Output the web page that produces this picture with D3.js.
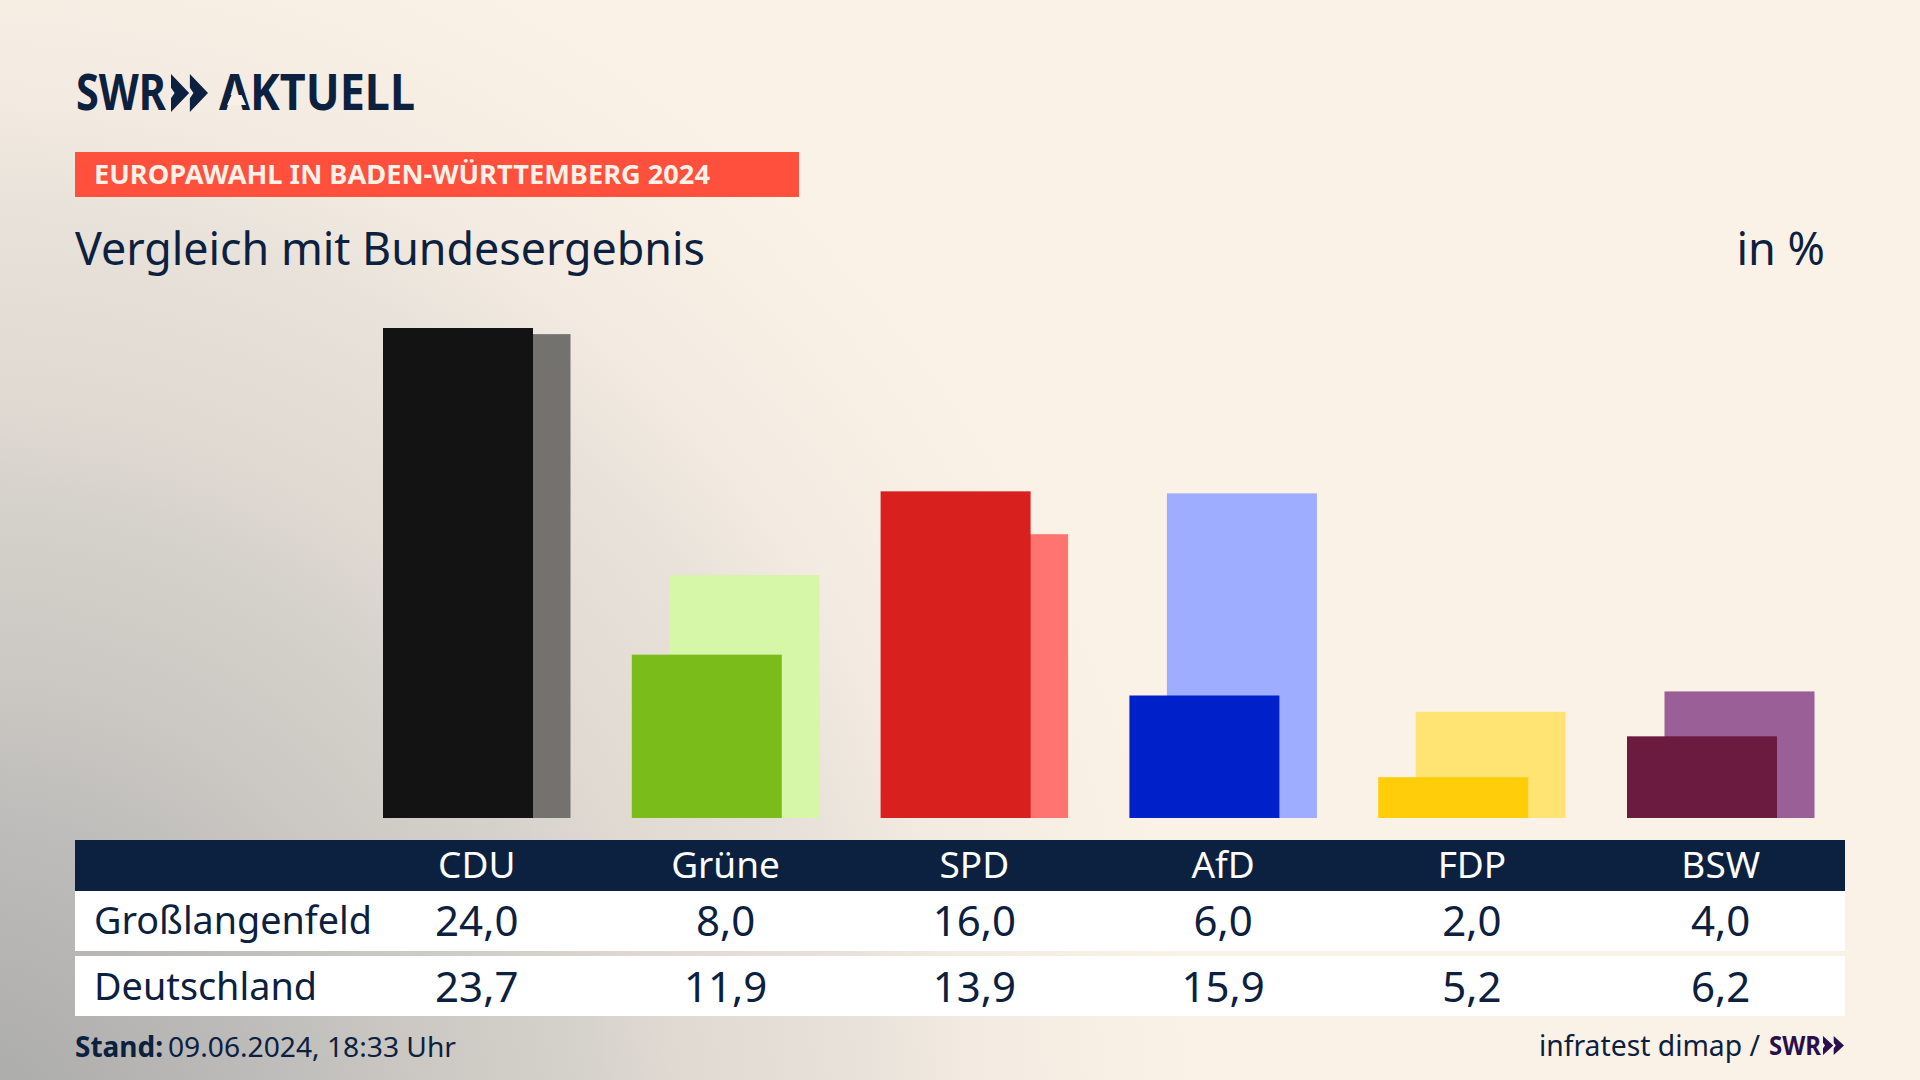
<!DOCTYPE html>
<html>
<head>
<meta charset="utf-8">
<script src="https://cdn.jsdelivr.net/npm/d3@7"></script>
<style>
html, body { margin: 0; padding: 0; background: #faf2e7; overflow: hidden; }
text { font-family: "Noto Sans", sans-serif; }
</style>
</head>
<body>
<div class="chart"></div>
<script>
const parties = ["CDU", "Grüne", "SPD", "AfD", "FDP", "BSW"]
const local = [24.0, 8.0, 16.0, 6.0, 2.0, 4.0]
const national = [23.7, 11.9, 13.9, 15.9, 5.2, 6.2]
const localLabels = ["24,0", "8,0", "16,0", "6,0", "2,0", "4,0"]
const nationalLabels = ["23,7", "11,9", "13,9", "15,9", "5,2", "6,2"]
const darkColors = ["#131313", "#7abd1b", "#d8201f", "#0020c9", "#ffcd0a", "#6b1a40"]
const lightColors = ["#73726f", "#d6f6a8", "#ff7470", "#9eadff", "#ffe373", "#9a5f96"]

const navy = "#0c2040"
const width = 1920
const height = 1080
const barWidth = 150
const barShift = 37.5

const svg = d3.select(".chart").append("svg")
  .attr("width", width)
  .attr("height", height)
  .style("display", "block")

const x = d3.scalePoint().domain(parties).range([476.75, 1720.75])
const y = d3.scaleLinear().domain([0, 24]).range([818, 328])

// background: cream with grey coming in from bottom left
const defs = svg.append("defs")
const grad = defs.append("radialGradient")
  .attr("id", "bgGrad")
  .attr("gradientUnits", "userSpaceOnUse")
  .attr("cx", 0).attr("cy", 0).attr("r", 1)
  .attr("gradientTransform", "translate(-40,1150) scale(1300,1350)")
const stops = [[0, "#a8a8a8"], [0.23, "#bcbbb9"], [0.35, "#cbc8c3"], [0.48, "#d5d1cb"], [0.55, "#e0d9d2"], [0.7, "#e8e2da"], [0.78, "#f3ebe1"], [0.95, "#faf2e7"]]
stops.forEach(s => grad.append("stop").attr("offset", s[0]).attr("stop-color", s[1]))

svg.append("rect").attr("width", width).attr("height", height).attr("fill", "#faf2e7")
svg.append("rect").attr("width", width).attr("height", height).attr("fill", "url(#bgGrad)")

const label = (str, px, py, size, opts = {}) => {
  const t = svg.append("text")
    .attr("x", px)
    .attr("y", py)
    .attr("font-size", size)
    .attr("fill", opts.fill || navy)
    .attr("font-weight", opts.weight || 400)
    .attr("text-anchor", opts.anchor || "start")
    .text(str)
  if (opts.fit) t.attr("textLength", opts.fit).attr("lengthAdjust", "spacingAndGlyphs")
  return t
}

const chevrons = (px, py, w, h, color) => {
  const cw = w * 0.49
  const path = d3.path()
  ;[0, w - cw].forEach(dx => {
    path.moveTo(px + dx, py)
    path.lineTo(px + dx + cw, py + h / 2)
    path.lineTo(px + dx, py + h)
    path.lineTo(px + dx, py + h * 0.64)
    path.lineTo(px + dx + cw * 0.2, py + h / 2)
    path.lineTo(px + dx, py + h * 0.36)
    path.closePath()
  })
  svg.append("path").attr("d", path.toString()).attr("fill", color)
}

// logo
label("SWR", 76, 110, 50, { weight: 700, fit: 90 })
chevrons(171, 74, 37, 38, navy)
label("AKTUELL", 219, 110, 50, { weight: 700, fit: 196 })
// the logo's A has no crossbar
svg.append("path").attr("d", "M231.5,95 L241.5,95 L246,105 L227,105 Z").attr("fill", "#f9f1e7")

// header
svg.append("rect").attr("x", 75).attr("y", 152).attr("width", 724).attr("height", 45).attr("fill", "#ff4f3d")
label("EUROPAWAHL IN BADEN-WÜRTTEMBERG 2024", 94, 184, 27, { weight: 700, fill: "#faf2e7", fit: 616 })
label("Vergleich mit Bundesergebnis", 75, 265, 45, { fit: 630 })
label("in %", 1825, 265, 45, { anchor: "end" })

// bars, national behind, local in front
svg.append("g").selectAll("rect")
  .data(national)
  .enter()
  .append("rect")
  .attr("x", (d, i) => x(parties[i]) - barWidth / 2 + barShift / 2)
  .attr("y", d => y(d))
  .attr("width", barWidth)
  .attr("height", d => y(0) - y(d))
  .attr("fill", (d, i) => lightColors[i])

svg.append("g").selectAll("rect")
  .data(local)
  .enter()
  .append("rect")
  .attr("x", (d, i) => x(parties[i]) - barWidth / 2 - barShift / 2)
  .attr("y", d => y(d))
  .attr("width", barWidth)
  .attr("height", d => y(0) - y(d))
  .attr("fill", (d, i) => darkColors[i])

// table
svg.append("rect").attr("x", 75).attr("y", 840).attr("width", 1770).attr("height", 51).attr("fill", navy)
svg.append("rect").attr("x", 75).attr("y", 891).attr("width", 1770).attr("height", 60).attr("fill", "#ffffff")
svg.append("rect").attr("x", 75).attr("y", 956).attr("width", 1770).attr("height", 60).attr("fill", "#ffffff")

parties.forEach((p, i) => {
  label(p, x(p), 878, 37, { fill: "#ffffff", anchor: "middle" })
  label(localLabels[i], x(p), 936, 42, { anchor: "middle" })
  label(nationalLabels[i], x(p), 1002, 42, { anchor: "middle" })
})
label("Großlangenfeld", 94, 934, 38, { fit: 278 })
label("Deutschland", 94, 1000, 38, { fit: 223 })

// footer
label("Stand:", 75, 1057, 28, { weight: 700, fit: 88 })
label("09.06.2024, 18:33 Uhr", 168, 1057, 28, { fit: 288 })
label("infratest dimap /", 1539, 1056, 29, { fit: 221 })
label("SWR", 1769, 1055, 27, { weight: 700, fill: "#2a0f4a", fit: 52 })
chevrons(1823, 1036, 21, 19, "#2a0f4a")
</script>
</body>
</html>
